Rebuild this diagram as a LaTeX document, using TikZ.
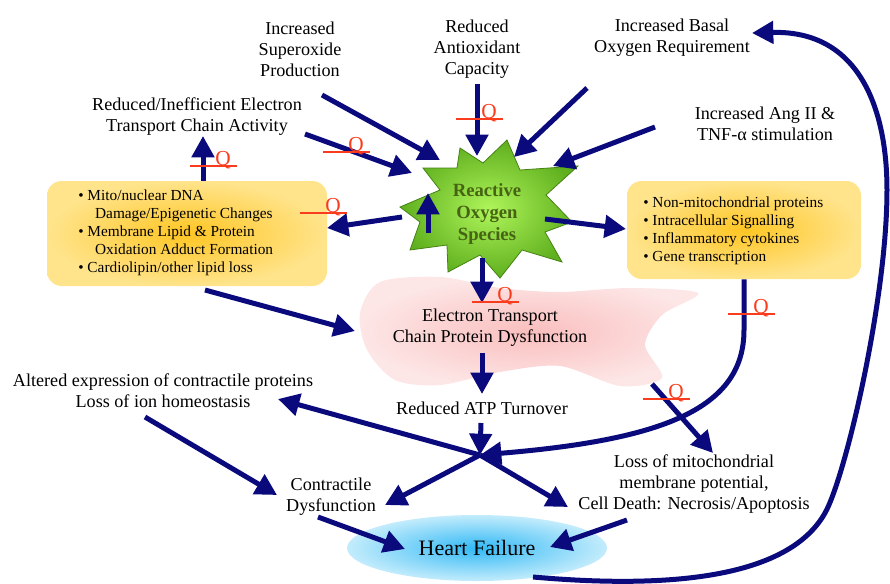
\documentclass[tikz,border=0pt]{standalone}
\usepackage{fontspec}
\setmainfont{Liberation Serif}
\usetikzlibrary{positioning,shapes.geometric,arrows.meta,calc}
\definecolor{navy}{RGB}{10,10,125}
\definecolor{qred}{RGB}{250,60,30}
\definecolor{rosgreen}{RGB}{70,100,20}
\definecolor{starin}{RGB}{175,245,90}
\definecolor{starout}{RGB}{95,175,30}
\definecolor{staredge}{RGB}{70,130,20}
\definecolor{boxin}{RGB}{255,198,35}
\definecolor{boxout}{RGB}{255,228,140}
\definecolor{pinkin}{RGB}{250,190,190}
\definecolor{pinkout}{RGB}{253,230,230}
\definecolor{hfin}{RGB}{50,185,245}
\definecolor{hfout}{RGB}{195,236,252}
\newcommand{\qmark}[2]{%
  \draw[qline] (#2) -- ++(47,0);
  \node[qtxt] (#1) at ($(#2)+(33,-1)$) {Q};}

\begin{document}
\begin{tikzpicture}[x=0.75pt,y=-0.75pt,
  lbl/.style={align=center,inner sep=0pt,font=\fontsize{13.6}{15.75}\selectfont},
  rostxt/.style={align=center,inner sep=0pt,text=rosgreen,font=\fontsize{14}{16.5}\selectfont\bfseries},
  bullets/.style={align=left,inner sep=0pt,anchor=west,font=\fontsize{11.5}{13.5}\selectfont},
  ybox/.style={rounded corners=11pt,inner color=boxin,outer color=boxout},
  arr/.style={draw=navy,line width=3.75pt,-{Triangle[length=16pt,width=16.5pt]}},
  qline/.style={draw=qred,line width=0.8pt},
  qtxt/.style={text=qred,anchor=base,inner sep=0pt,font=\fontsize{16}{16}\selectfont}]
\useasboundingbox (0,0) rectangle (890,583);

% background shapes
\shade[inner color=pinkin,outer color=pinkout] plot[smooth cycle] coordinates
  {(380,282) (440,277) (500,288) (560,292) (630,288) (698,293) (662,315)
   (645,345) (662,378) (620,386) (560,366) (500,372) (440,385) (395,380)
   (367,350) (360,313)};
\node[ybox,minimum width=210pt,minimum height=78.75pt] (lbox) at (187,233.5) {};
\node[ybox,minimum width=175.5pt,minimum height=73.5pt] (rbox) at (744,230) {};
\node[ellipse,inner color=hfin,outer color=hfout,minimum width=195pt,minimum height=49.5pt,
  font=\fontsize{16.5}{18}\selectfont] (hf) at (477,548) {Heart Failure};
\shadedraw[inner color=starin,outer color=starout,draw=staredge,line width=0.6pt]
  (507,140) -- (520,170) -- (578,166) -- (546,195) -- (572,222) -- (545,232)
  -- (562,262) -- (522,250) -- (500,278) -- (480,255) -- (448,272) -- (447,245)
  -- (410,250) -- (420,222) -- (400,207) -- (440,190) -- (423,168) -- (457,168)
  -- (460,148) -- (483,163) -- cycle;

% texts
\node[lbl] (sup) at (300,49) {Increased\\Superoxide\\Production};
\node[lbl] (anti) at (477,49) {Reduced\\Antioxidant\\Capacity};
\node[lbl] (basal) at (672,38) {Increased Basal\\Oxygen Requirement};
\node[lbl] (etca) at (197,117) {Reduced/Inefficient Electron\\Transport Chain Activity};
\node[lbl] (ang) at (765,124) {Increased Ang II \&\\TNF-α stimulation};
\node[rostxt] (ros) at (487,214) {Reactive\\Oxygen\\Species};
\node[bullets] (lboxtxt) at (78,233) {\textbullet\ Mito/nuclear DNA\\
  \hspace*{1.1em}Damage/Epigenetic Changes\\
  \textbullet\ Membrane Lipid \& Protein\\
  \hspace*{1.1em}Oxidation Adduct Formation\\
  \textbullet\ Cardiolipin/other lipid loss};
\node[bullets] (rboxtxt) at (643,231) {\textbullet\ Non-mitochondrial proteins\\
  \textbullet\ Intracellular Signalling\\
  \textbullet\ Inflammatory cytokines\\
  \textbullet\ Gene transcription};
\node[lbl] (etcd) at (490,328) {Electron Transport\\Chain Protein Dysfunction};
\node[lbl] (atp) at (482,408) {Reduced ATP Turnover};
\node[lbl] (alt) at (163,390.5) {Altered expression of contractile proteins\\Loss of ion homeostasis};
\node[lbl] (contr) at (331,496.5) {Contractile\\Dysfunction};
\node[lbl] (loss) at (694,484) {Loss of mitochondrial\\membrane potential,\\Cell Death: Necrosis/Apoptosis};

% arrow ends
\coordinate (supOut) at (322,95);   \coordinate (rosIn1) at (440,160);
\coordinate (antiOut) at (477,84);  \coordinate (rosIn2) at (477,156);
\coordinate (basalOut) at (587,88); \coordinate (rosIn3) at (514,157);
\coordinate (angOut) at (655,127);  \coordinate (rosIn4) at (553,166);
\coordinate (etcaOut) at (305,134); \coordinate (rosIn5) at (412,173);
\coordinate (lboxUp) at (203,181);  \coordinate (etcaIn) at (203,136);
\coordinate (rosOutW) at (402,217); \coordinate (lboxIn) at (327,228);
\coordinate (rosOutE) at (545,219); \coordinate (rboxIn) at (626,229);
\coordinate (rosOutS) at (482,258); \coordinate (etcdIn) at (482,303);
\coordinate (starUpB) at (428,233); \coordinate (starUpT) at (428,193);
\coordinate (lboxOut) at (205,290); \coordinate (cloudIn) at (355,331);
\coordinate (etcdOut) at (482,353); \coordinate (atpIn) at (482,394);
\coordinate (atpOut) at (481,423);  \coordinate (hub) at (480,455);
\coordinate (altIn) at (278,399);   \coordinate (contrIn) at (385,505);
\coordinate (lossIn) at (568,507);
\coordinate (cloudOut) at (652,384); \coordinate (lossTop) at (713,453);
\coordinate (altOut) at (145,417);  \coordinate (contrW) at (277,495);
\coordinate (contrOut) at (318,517); \coordinate (hfW) at (405,549);
\coordinate (lossOut) at (627,520); \coordinate (hfE) at (550,547);
\coordinate (hfOut) at (533,577);   \coordinate (basalIn) at (752,33);

% arrows
\draw[arr] (supOut) -- (rosIn1);
\draw[arr] (antiOut) -- (rosIn2);
\draw[arr] (basalOut) -- (rosIn3);
\draw[arr] (angOut) -- (rosIn4);
\draw[arr] (etcaOut) -- (rosIn5);
\draw[arr] (lboxUp) -- (etcaIn);
\draw[arr] (rosOutW) -- (lboxIn);
\draw[arr] (rosOutE) -- (rboxIn);
\draw[arr] (rosOutS) -- (etcdIn);
\draw[arr] (starUpB) -- (starUpT);
\draw[arr] (lboxOut) -- (cloudIn);
\draw[arr] (etcdOut) -- (atpIn);
\draw[arr] (atpOut) -- (hub);
\draw[arr] (hub) -- (altIn);
\draw[arr] (hub) -- (contrIn);
\draw[arr] (hub) -- (lossIn);
\draw[arr] (rbox.south) -- (744,330) .. controls (744,410) and (660,440) .. (hub);
\draw[arr] (cloudOut) -- (lossTop);
\draw[arr] (altOut) -- (contrW);
\draw[arr] (contrOut) -- (hfW);
\draw[arr] (lossOut) -- (hfE);
\draw[arr] (hfOut) .. controls (680,590) and (790,575) .. (825,513)
  .. controls (845,478) and (887,300) .. (887,190)
  .. controls (887,110) and (860,30) .. (basalIn);

% Q marks
\qmark{q1}{456,119}
\qmark{q2}{323,152}
\qmark{q3}{190,166}
\qmark{q4}{300,213}
\qmark{q5}{472,302}
\qmark{q6}{728,314}
\qmark{q7}{643,399}
\end{tikzpicture}
\end{document}
